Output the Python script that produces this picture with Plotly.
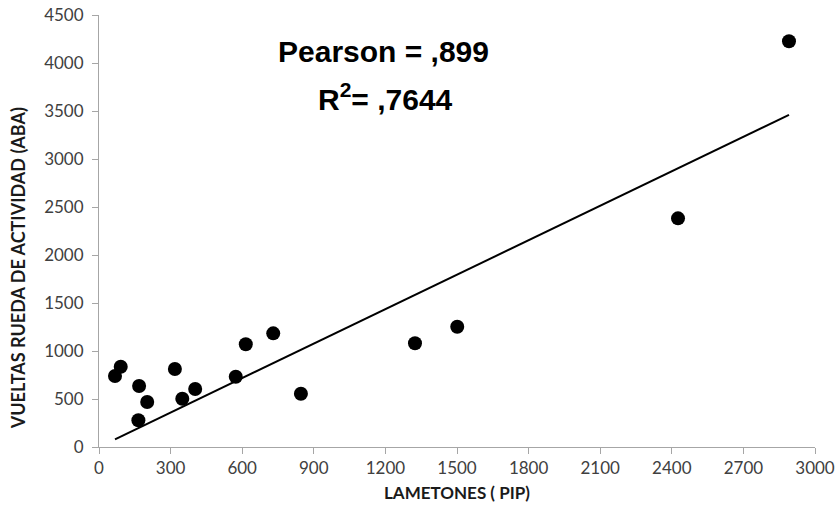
import numpy as np
import plotly.graph_objects as go

# Data
lametones = [67, 91, 168, 202, 165, 318, 349, 403, 573, 615, 730, 846, 1324, 1501, 2426, 2891]
vueltas = [740, 836, 635, 469, 278, 813, 503, 604, 732, 1070, 1184, 555, 1080, 1253, 2382, 4226]
x_ticks = [0, 300, 600, 900, 1200, 1500, 1800, 2100, 2400, 2700, 3000]
y_ticks = [0, 500, 1000, 1500, 2000, 2500, 3000, 3500, 4000, 4500]
x_title = "LAMETONES ( PIP)"
y_title = "VUELTAS RUEDA DE ACTIVIDAD (ABA)"
pearson_text = "Pearson = ,899"
r2_text = "R<sup>2</sup>= ,7644"

# Linear trendline through the origin (least squares)
xa = np.array(lametones, dtype=float)
ya = np.array(vueltas, dtype=float)
slope = float((xa * ya).sum() / (xa * xa).sum())
tx = [xa.min(), xa.max()]
ty = [slope * v for v in tx]

tick_font = dict(family="Lato, sans-serif", size=17, color="#404040")
stat_font = dict(family="Liberation Sans, Arial, sans-serif", size=30, color="black")

fig = go.Figure()
fig.add_trace(go.Scatter(x=tx, y=ty, mode="lines",
                         line=dict(color="black", width=2), hoverinfo="skip", showlegend=False))
fig.add_trace(go.Scatter(x=lametones, y=vueltas, mode="markers",
                         marker=dict(color="black", size=14, line=dict(width=0)), showlegend=False))

# statistics text
fig.add_annotation(x=0.397, y=0.915, xref="paper", yref="paper", text="<b>" + pearson_text + "</b>",
                   showarrow=False, xanchor="center", yanchor="middle", font=stat_font)
fig.add_annotation(x=0.40, y=0.81, xref="paper", yref="paper", text="<b>" + r2_text + "</b>",
                   showarrow=False, xanchor="center", yanchor="middle", font=stat_font)

# axis titles
fig.add_annotation(x=-0.113, y=0.414, xref="paper", yref="paper", text="<b>" + y_title + "</b>",
                   textangle=-90, showarrow=False, xanchor="center", yanchor="middle", borderpad=0,
                   font=dict(family="Lato, sans-serif", size=18, color="#1a1a1a"))
fig.add_annotation(x=0.5, y=-0.106, xref="paper", yref="paper", text="<b>" + x_title + "</b>",
                   showarrow=False, xanchor="center", yanchor="middle", borderpad=0,
                   font=dict(family="Lato, sans-serif", size=17, color="#1a1a1a"))

fig.update_layout(
    width=836, height=505,
    margin=dict(l=99, r=21, t=15, b=58),
    paper_bgcolor="white", plot_bgcolor="white",
    showlegend=False,
    xaxis=dict(range=[0, 3000], tickvals=x_ticks, ticktext=[str(v) for v in x_ticks],
               showgrid=False, zeroline=False, showline=True, linecolor="#a6a6a6", linewidth=1,
               ticks="outside", ticklen=6, tickcolor="#a6a6a6", tickfont=tick_font,
               automargin=False),
    yaxis=dict(range=[0, 4500], tickvals=y_ticks, ticktext=[str(v) for v in y_ticks],
               showgrid=False, zeroline=False, showline=True, linecolor="#a6a6a6", linewidth=1,
               ticks="outside", ticklen=6, tickcolor="#a6a6a6", tickfont=tick_font,
               ticklabelstandoff=5, automargin=False),
)

fig.write_html("out.html")
